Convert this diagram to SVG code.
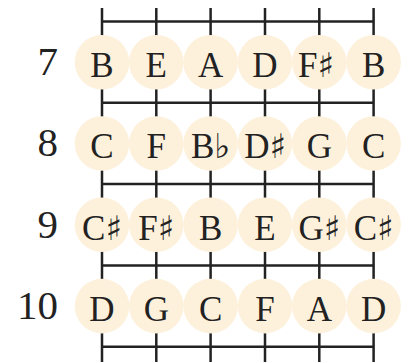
<svg xmlns="http://www.w3.org/2000/svg" width="409" height="363" viewBox="0 0 409 363">
<style>
.str{stroke:#222;stroke-width:2.5;fill:none}
.fret{stroke:#222;stroke-width:2.5;fill:none}
.dot{fill:#fdf1dc}
.note{font-family:"Liberation Serif","DejaVu Serif",serif;font-size:35px;fill:#222;text-anchor:middle}
.acc{font-family:"DejaVu Sans",serif;font-size:34px}
.num{font-family:"Liberation Serif","DejaVu Serif",serif;font-size:41px;fill:#222;text-anchor:end}
</style>
<g id="connectors">
<line class="str" x1="102" y1="8" x2="102" y2="362"/>
<line class="str" x1="156.3" y1="8" x2="156.3" y2="362"/>
<line class="str" x1="210.6" y1="8" x2="210.6" y2="362"/>
<line class="str" x1="265" y1="8" x2="265" y2="362"/>
<line class="str" x1="319.3" y1="8" x2="319.3" y2="362"/>
<line class="str" x1="373.6" y1="8" x2="373.6" y2="362"/>
<line class="fret" x1="102" y1="21.5" x2="373.6" y2="21.5"/>
<line class="fret" x1="102" y1="102.8" x2="373.6" y2="102.8"/>
<line class="fret" x1="102" y1="184.1" x2="373.6" y2="184.1"/>
<line class="fret" x1="102" y1="265.4" x2="373.6" y2="265.4"/>
<line class="fret" x1="102" y1="346.7" x2="373.6" y2="346.7"/>
</g>
<g id="fret7">
<text class="num" x="58" y="75">7</text>
<circle class="dot" cx="102" cy="62.2" r="27.3"/><text class="note" x="102" y="77">B</text>
<circle class="dot" cx="156.3" cy="62.2" r="27.3"/><text class="note" x="156.3" y="77">E</text>
<circle class="dot" cx="210.6" cy="62.2" r="27.3"/><text class="note" x="210.6" y="77">A</text>
<circle class="dot" cx="265" cy="62.2" r="27.3"/><text class="note" x="265" y="77">D</text>
<circle class="dot" cx="319.3" cy="62.2" r="27.3"/><text class="note" x="316" y="77">F<tspan class="acc">♯</tspan></text>
<circle class="dot" cx="373.6" cy="62.2" r="27.3"/><text class="note" x="373.6" y="77">B</text>
</g>
<g id="fret8">
<text class="num" x="58" y="156.3">8</text>
<circle class="dot" cx="102" cy="143.5" r="27.3"/><text class="note" x="102" y="158.3">C</text>
<circle class="dot" cx="156.3" cy="143.5" r="27.3"/><text class="note" x="156.3" y="158.3">F</text>
<circle class="dot" cx="210.6" cy="143.5" r="27.3"/><text class="note" x="210.6" y="158.3">B<tspan class="acc">♭</tspan></text>
<circle class="dot" cx="265" cy="143.5" r="27.3"/><text class="note" x="265" y="158.3">D<tspan class="acc">♯</tspan></text>
<circle class="dot" cx="319.3" cy="143.5" r="27.3"/><text class="note" x="319.3" y="158.3">G</text>
<circle class="dot" cx="373.6" cy="143.5" r="27.3"/><text class="note" x="373.6" y="158.3">C</text>
</g>
<g id="fret9">
<text class="num" x="58" y="237.6">9</text>
<circle class="dot" cx="102" cy="224.8" r="27.3"/><text class="note" x="102" y="239.6">C<tspan class="acc">♯</tspan></text>
<circle class="dot" cx="156.3" cy="224.8" r="27.3"/><text class="note" x="156.3" y="239.6">F<tspan class="acc">♯</tspan></text>
<circle class="dot" cx="210.6" cy="224.8" r="27.3"/><text class="note" x="210.6" y="239.6">B</text>
<circle class="dot" cx="265" cy="224.8" r="27.3"/><text class="note" x="265" y="239.6">E</text>
<circle class="dot" cx="319.3" cy="224.8" r="27.3"/><text class="note" x="319.3" y="239.6">G<tspan class="acc">♯</tspan></text>
<circle class="dot" cx="373.6" cy="224.8" r="27.3"/><text class="note" x="373.6" y="239.6">C<tspan class="acc">♯</tspan></text>
</g>
<g id="fret10">
<text class="num" x="58" y="319">10</text>
<circle class="dot" cx="102" cy="306.1" r="27.3"/><text class="note" x="102" y="320.5">D</text>
<circle class="dot" cx="156.3" cy="306.1" r="27.3"/><text class="note" x="156.3" y="320.5">G</text>
<circle class="dot" cx="210.6" cy="306.1" r="27.3"/><text class="note" x="210.6" y="320.5">C</text>
<circle class="dot" cx="265" cy="306.1" r="27.3"/><text class="note" x="265" y="320.5">F</text>
<circle class="dot" cx="319.3" cy="306.1" r="27.3"/><text class="note" x="319.3" y="320.5">A</text>
<circle class="dot" cx="373.6" cy="306.1" r="27.3"/><text class="note" x="373.6" y="320.5">D</text>
</g>
</svg>
